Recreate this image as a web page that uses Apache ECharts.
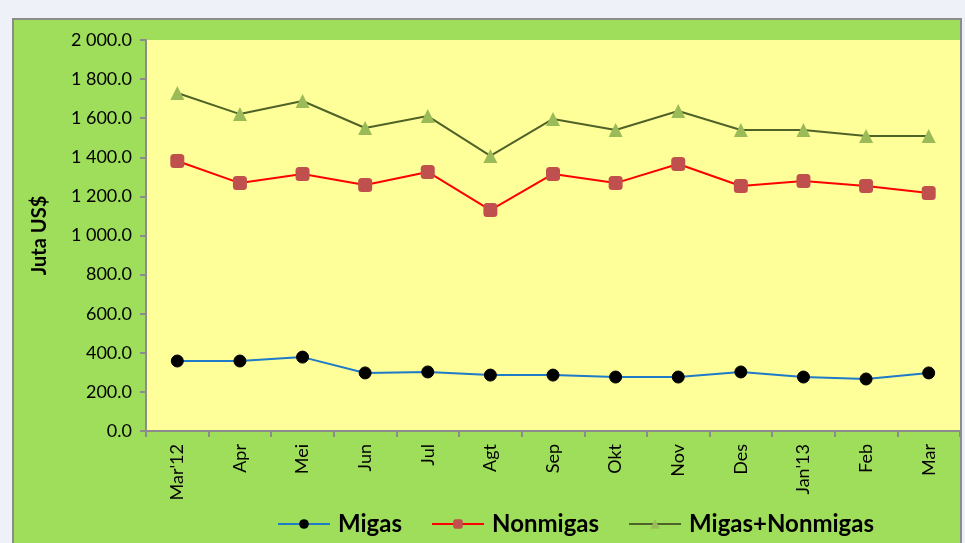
<!DOCTYPE html>
<html>
<head>
<meta charset="utf-8">
<script src="https://cdn.jsdelivr.net/npm/echarts@6/dist/echarts.min.js"></script>
<style>
  html, body { margin: 0; padding: 0; background: #eef1f7; }
  #chart { width: 965px; height: 543px; }
</style>
</head>
<body>
<div id="chart"></div>
<script>
var months = ["Mar'12", 'Apr', 'Mei', 'Jun', 'Jul', 'Agt', 'Sep', 'Okt', 'Nov', 'Des', "Jan'13", 'Feb', 'Mar']
var migas = [358, 358, 378, 297, 302, 286, 286, 276, 276, 302, 276, 266, 297]
var nonmigas = [1381, 1268, 1315, 1258, 1325, 1130, 1315, 1268, 1366, 1253, 1279, 1253, 1217]
var total = [1729, 1621, 1688, 1550, 1611, 1407, 1596, 1540, 1637, 1540, 1540, 1509, 1509]

var font = 'Lato, "Open Sans", sans-serif'

function fmt(v) {
    // 2000 -> "2 000.0"
    var s = v.toFixed(1)
    var parts = s.split('.')
    parts[0] = parts[0].replace(/\B(?=(\d{3})+(?!\d))/g, ' ')
    return parts.join('.')
}

var chart = echarts.init(document.getElementById('chart'))
chart.setOption({
    backgroundColor: '#eef1f7',
    animation: false,
    graphic: [{
        type: 'rect',
        z: -10,
        shape: { x: 13, y: 19, width: 948, height: 540 },
        style: { fill: '#9ede5b', stroke: '#8c8c8c', lineWidth: 2 }
    }],
    grid: {
        left: 146,
        top: 40,
        right: 5,
        bottom: 112,
        show: true,
        backgroundColor: '#ffff99',
        borderWidth: 0
    },
    legend: {
        left: 272,
        top: 507,
        itemWidth: 52,
        itemHeight: 12,
        itemGap: 29,
        textStyle: { fontFamily: font, fontSize: 24, fontWeight: 'bold', color: '#000', padding: [0, 0, 0, 3] },
        data: [
            { name: 'Migas', itemStyle: { color: '#000' } },
            'Nonmigas',
            'Migas+Nonmigas'
        ]
    },
    xAxis: {
        type: 'category',
        data: months,
        boundaryGap: true,
        axisLine: { lineStyle: { color: '#8c8c8c', width: 2 } },
        axisTick: { show: true, length: 6, lineStyle: { color: '#8c8c8c', width: 2 } },
        axisLabel: { rotate: 90, color: '#000', fontFamily: font, fontSize: 18, margin: 13 }
    },
    yAxis: {
        type: 'value',
        min: 0,
        max: 2000,
        interval: 200,
        name: 'Juta US$',
        nameLocation: 'middle',
        nameGap: 96,
        nameTextStyle: { fontFamily: font, fontSize: 20, fontWeight: 'bold', color: '#000' },
        splitLine: { show: false },
        axisLine: { show: true, lineStyle: { color: '#8c8c8c', width: 2 } },
        axisTick: { show: true, length: 6, lineStyle: { color: '#8c8c8c', width: 2 } },
        axisLabel: { color: '#000', fontFamily: font, fontSize: 18, margin: 14, formatter: fmt }
    },
    series: [{
        name: 'Migas',
        type: 'line',
        data: migas,
        symbol: 'circle',
        symbolSize: 12,
        lineStyle: { color: '#1f7ac8', width: 2 },
        itemStyle: { color: '#000', borderColor: '#000' }
    }, {
        name: 'Nonmigas',
        type: 'line',
        data: nonmigas,
        symbol: 'roundRect',
        symbolSize: 14,
        lineStyle: { color: '#ff0000', width: 2 },
        itemStyle: { color: '#c0504d' }
    }, {
        name: 'Migas+Nonmigas',
        type: 'line',
        data: total,
        symbol: 'triangle',
        symbolSize: 14,
        lineStyle: { color: '#4f6228', width: 2 },
        itemStyle: { color: '#9bbb59' }
    }]
})
</script>
</body>
</html>
